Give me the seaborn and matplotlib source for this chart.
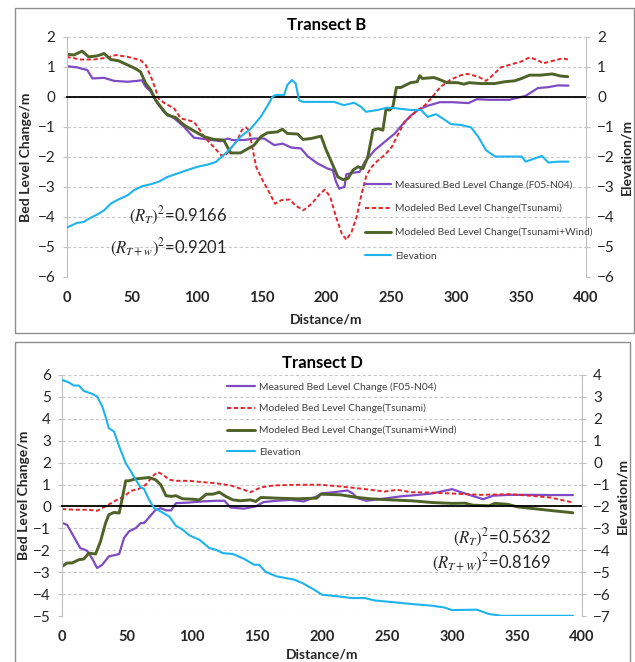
import numpy as np
import pandas as pd
import matplotlib
matplotlib.use("Agg")
import matplotlib.pyplot as plt
import seaborn as sns
from matplotlib.patches import Rectangle
from matplotlib.lines import Line2D

sns.set_style("white")
plt.rcParams['font.family'] = ['Lato', 'DejaVu Sans']
plt.rcParams['mathtext.fontset'] = 'stix'

# ---------------- Transect B ----------------
b_meas_d = [0, 8, 16, 20, 29, 36.5, 47, 54.5, 58, 61, 65, 70, 75, 83, 90.5, 98, 108.5, 119, 124, 128,
            136.7, 144.5, 152.2, 160, 166.5, 173, 180.5, 185.7, 193.3, 201, 205, 207.5, 210, 214, 215.5,
            220.6, 225.7, 229.6, 237.3, 245, 252.8, 260.5, 265.6, 271, 278, 287.5, 297, 309.5, 316, 325,
            341, 353.5, 363, 371, 378.5, 386.5]
b_meas_v = [1.02, 0.98, 0.89, 0.61, 0.63, 0.53, 0.5, 0.53, 0.55, 0.33, 0.17, -0.22, -0.5, -0.72, -1.0,
            -1.36, -1.42, -1.48, -1.39, -1.44, -1.44, -1.39, -1.39, -1.61, -1.56, -1.69, -1.72, -1.98,
            -2.22, -2.39, -2.44, -2.83, -3.06, -3.0, -2.58, -2.53, -2.5, -2.17, -1.78, -1.5, -1.22, -0.83,
            -0.61, -0.43, -0.3, -0.18, -0.18, -0.21, -0.08, -0.1, -0.1, 0.03, 0.29, 0.32, 0.38, 0.37]

b_tsu_d = [0, 11, 21, 31, 38, 47, 57, 61, 66, 71, 75, 83, 88, 98, 101, 106, 112, 119, 122, 126.4,
           131.6, 135, 138, 140.5, 142, 146, 151, 156.6, 160.5, 165.6, 172, 176, 182.4, 188.8, 195.3,
           199, 203, 208, 212, 215.5, 219.5, 223.4, 227.3, 231, 235, 240, 245, 250.5, 255.6, 260.5,
           268, 276, 280.6, 288, 296, 304, 309, 317, 323, 327, 334.5, 345, 350, 356.5, 363, 366.8,
           372, 378.4, 382, 386]
b_tsu_v = [1.33, 1.24, 1.24, 1.3, 1.39, 1.33, 1.22, 1.06, 0.56, -0.06, -0.2, -0.39, -0.72, -0.83, -1.0,
           -1.33, -1.61, -1.94, -1.97, -1.72, -1.44, -1.11, -1.02, -1.11, -1.44, -2.33, -2.78, -3.22,
           -3.56, -3.44, -3.42, -3.61, -3.78, -3.56, -3.22, -3.09, -3.33, -4.06, -4.56, -4.76, -4.5,
           -4.0, -3.22, -2.61, -2.33, -2.11, -1.94, -1.67, -1.22, -0.83, -0.53, -0.28, -0.06, 0.33,
           0.58, 0.72, 0.76, 0.67, 0.53, 0.67, 0.98, 1.11, 1.17, 1.31, 1.22, 1.11, 1.17, 1.24, 1.28, 1.24]

b_wind_d = [0, 5.7, 12, 17, 23.6, 29, 34, 40, 47, 53, 57, 61, 65, 68.6, 72.5, 77.6, 84, 90.5, 97, 106,
            113.6, 121, 126.4, 134, 140, 144.5, 149.6, 154.7, 162.4, 166.3, 170, 178, 182, 188.4, 196,
            200, 204, 209, 213, 216.7, 220.6, 224.4, 228.3, 232, 236, 240, 243.6, 246, 248.8, 251.3,
            254, 257.5, 265, 270, 272, 274, 283, 288, 293, 301, 306, 310, 319, 329.7, 337.3, 345,
            350.5, 356.5, 365, 374, 380.5, 386]
b_wind_v = [1.42, 1.39, 1.52, 1.33, 1.36, 1.44, 1.24, 1.2, 1.06, 0.94, 0.83, 0.44, 0.22, -0.11, -0.33,
            -0.61, -0.69, -0.94, -1.11, -1.33, -1.42, -1.44, -1.87, -1.87, -1.72, -1.61, -1.33, -1.2,
            -1.17, -1.08, -1.22, -1.24, -1.42, -1.39, -1.31, -1.78, -2.17, -2.67, -2.76, -2.72, -2.44,
            -2.33, -2.39, -2.0, -1.11, -1.06, -1.11, -0.42, -0.44, -0.33, 0.31, 0.31, 0.47, 0.5, 0.7,
            0.61, 0.64, 0.56, 0.47, 0.47, 0.42, 0.47, 0.44, 0.44, 0.5, 0.53, 0.61, 0.72, 0.72, 0.76,
            0.69, 0.67]

b_elev_d = [0, 8, 13, 18.5, 23.6, 29, 34, 39, 47, 52, 58, 65, 71, 77.6, 85, 93, 101, 108.5, 115, 121,
            126.4, 134, 142, 149.5, 155, 158.6, 161, 167.5, 170, 173.5, 176.5, 179, 182, 193.3, 206,
            213.5, 221.5, 226.6, 230.6, 239.5, 247, 255, 265, 273, 278, 284.5, 291, 296, 304, 311.5,
            317, 323, 330, 350.5, 353.5, 366, 371, 378.5, 386.5]
b_elev_v = [-4.36, -4.2, -4.17, -4.03, -3.92, -3.78, -3.56, -3.44, -3.28, -3.11, -2.98, -2.91, -2.83,
            -2.67, -2.56, -2.44, -2.33, -2.26, -2.17, -1.94, -1.72, -1.33, -1.06, -0.67, -0.28, 0.0,
            0.06, 0.06, 0.39, 0.56, 0.44, -0.11, -0.17, -0.17, -0.17, -0.28, -0.2, -0.33, -0.5, -0.44,
            -0.36, -0.39, -0.44, -0.44, -0.67, -0.58, -0.76, -0.91, -0.94, -1.02, -1.33, -1.78, -1.99,
            -1.99, -2.16, -1.97, -2.19, -2.16, -2.16]

# ---------------- Transect D ----------------
d_meas_d = [0.5, 3.9, 9, 14, 19.3, 23, 27, 31, 36, 40, 44, 47.7, 51.5, 56.7, 60.5, 63, 67, 72, 76, 80,
            84, 87.6, 98, 108, 118.5, 125, 129.7, 140, 149, 155, 165, 175.5, 186, 196, 200, 209, 219.6,
            223.5, 227.3, 234, 240, 250.5, 260.5, 268.5, 284.5, 300, 310, 324, 331.5, 344, 360, 375.5, 393]
d_meas_v = [-0.76, -0.84, -1.37, -1.9, -2.02, -2.36, -2.81, -2.66, -2.28, -2.23, -2.17, -1.44, -1.14,
            -0.99, -0.76, -0.76, -0.5, -0.15, -0.08, -0.18, -0.18, 0.15, 0.18, 0.23, 0.26, 0.26, -0.05,
            -0.1, 0.0, 0.2, 0.26, 0.3, 0.23, 0.46, 0.6, 0.65, 0.73, 0.6, 0.38, 0.26, 0.3, 0.38, 0.46,
            0.5, 0.59, 0.79, 0.59, 0.33, 0.49, 0.53, 0.53, 0.52, 0.52]

d_tsu_d = [0, 10, 20.6, 27, 33.5, 40, 47.7, 53, 59, 64.4, 69.6, 73.5, 77.3, 82.5, 87.6, 98, 108, 118.5,
           129.7, 140, 145, 153, 163, 181, 199, 214.5, 232, 248, 258, 268.5, 281.5, 300, 322, 344, 360,
           375.5, 393]
d_tsu_v = [-0.12, -0.15, -0.15, -0.2, 0.0, 0.23, 0.46, 0.71, 0.8, 0.99, 1.37, 1.57, 1.47, 1.22, 1.17,
           1.17, 1.11, 1.06, 0.96, 0.76, 0.65, 0.87, 0.96, 0.99, 0.99, 0.91, 0.8, 0.68, 0.76, 0.65,
           0.64, 0.59, 0.53, 0.56, 0.49, 0.41, 0.18]

d_wind_d = [0, 3.9, 7.7, 13, 16.8, 20.6, 25.8, 29.6, 33.5, 36, 40, 44, 46.4, 49, 51.5, 56.7, 62, 67, 72,
            76, 80, 84, 87.6, 92.8, 100.5, 105.7, 111, 116, 121, 126, 131.4, 137.4, 145, 149, 153, 165,
            181, 196, 199, 214.5, 227.3, 237.5, 253, 268.5, 275, 284.5, 300, 310, 316, 328.5, 333,
            342.5, 350.5, 366, 378.5, 393]
d_wind_v = [-2.74, -2.58, -2.58, -2.43, -2.4, -2.13, -2.17, -1.6, -0.76, -0.38, -0.27, -0.3, 0.38, 1.17,
            1.17, 1.26, 1.29, 1.32, 1.22, 0.99, 0.49, 0.46, 0.49, 0.35, 0.33, 0.3, 0.56, 0.56, 0.65,
            0.46, 0.3, 0.26, 0.3, 0.23, 0.41, 0.38, 0.35, 0.38, 0.56, 0.53, 0.41, 0.35, 0.3, 0.26, 0.23,
            0.18, 0.14, 0.15, 0.06, 0.03, 0.14, 0.1, -0.02, -0.12, -0.2, -0.29]

d_elev_d = [0, 5, 9, 13, 16.8, 22, 27, 31, 33.5, 36, 40, 44, 49, 53, 56.7, 60.5, 63, 67, 71, 76, 82.5,
            87.6, 92.8, 98, 105.7, 113.4, 118.5, 123.7, 131.4, 140, 147.7, 151.6, 156.7, 165, 178.6,
            185, 194, 200, 212, 222.5, 232.7, 240.5, 253, 268.5, 284.5, 294, 300, 319, 328.5, 338, 393]
d_elev_v = [3.78, 3.67, 3.52, 3.52, 3.27, 3.17, 3.02, 2.56, 2.1, 1.57, 1.42, 0.74, -0.02, -0.4, -0.78,
            -1.13, -1.19, -1.7, -2.08, -2.23, -2.46, -2.88, -3.06, -3.32, -3.52, -3.9, -3.98, -4.13,
            -4.17, -4.39, -4.66, -4.66, -4.99, -5.19, -5.34, -5.5, -5.8, -6.03, -6.1, -6.18, -6.18,
            -6.29, -6.36, -6.45, -6.53, -6.61, -6.73, -6.71, -6.91, -6.99, -6.99]

x_ticks = [0, 50, 100, 150, 200, 250, 300, 350, 400]
series_labels = ["Measured Bed Level Change (F05-N04)",
                 "Modeled Bed Level Change(Tsunami)",
                 "Modeled Bed Level Change(Tsunami+Wind)",
                 "Elevation"]

PURPLE = '#7F4BC4'
RED = '#E3262B'
GREEN = '#4F6228'
CYAN = '#1DB4EE'
TXT = '#262626'
W, H = 635, 662

fig = plt.figure(figsize=(W / 100, H / 100), dpi=100)
fig.patch.set_facecolor('white')

# panel frames
fig.add_artist(Rectangle((15 / W, 1 - 333 / H), (634 - 15) / W, (333 - 8) / H,
                         transform=fig.transFigure, fill=False, edgecolor='#8f8f8f', lw=1.0))
fig.add_artist(Rectangle((15 / W, -0.02), (630 - 15) / W, 1 - 342 / H + 0.02,
                         transform=fig.transFigure, fill=False, edgecolor='#8f8f8f', lw=1.0))


def make_panel(rect, ylo, yhi, rlo, rhi, title, data, ylab_x, rlab_x, xlab_pad):
    ax = fig.add_axes(rect)
    ax.set_facecolor('none')
    (md, mv), (td, tv), (wd, wv), (ed, ev) = data
    sns.lineplot(x=md, y=mv, ax=ax, color=PURPLE, lw=1.6, sort=False, legend=False)
    sns.lineplot(x=td, y=tv, ax=ax, color=RED, lw=1.4, sort=False, legend=False,
                 linestyle=(0, (2.2, 1.3)))
    sns.lineplot(x=wd, y=wv, ax=ax, color=GREEN, lw=2.1, sort=False, legend=False)
    ax.set_xlim(0, 400)
    ax.set_ylim(ylo, yhi)
    ax.set_yticks(range(ylo, yhi + 1))
    ax.yaxis.grid(True, ls=(0, (3, 2)), color='#c9c9c9', lw=0.8)
    ax.xaxis.grid(False)
    ax.set_axisbelow(True)
    for s in ['top', 'right']:
        ax.spines[s].set_visible(False)
    ax.spines['left'].set_color('#bfbfbf')
    ax.spines['bottom'].set_position(('data', 0))
    ax.spines['bottom'].set_color('black')
    ax.spines['bottom'].set_linewidth(1.3)
    ax.set_xticks(x_ticks)
    ax.tick_params(axis='x', direction='out', length=3.5, width=1.2, color='black',
                   labelbottom=False)
    ax.tick_params(axis='y', direction='out', length=3, color='#bfbfbf', labelsize=11,
                   pad=5, labelcolor=TXT)
    ax.set_xlabel('')
    ax.set_ylabel('Bed Level Change/m', fontweight='bold', fontsize=10, color=TXT)
    ax.yaxis.set_label_coords(ylab_x, 0.5)
    ax.set_title(title, fontweight='bold', fontsize=12, pad=5, color='black')

    sec = ax.secondary_xaxis('bottom')
    sec.set_xticks(x_ticks)
    sec.set_xticklabels([str(t) for t in x_ticks], fontweight='bold', fontsize=10.5, color=TXT)
    sec.tick_params(length=0, pad=10)
    sec.spines['bottom'].set_visible(False)
    sec.set_xlabel('Distance/m', fontweight='bold', fontsize=10, color=TXT, labelpad=xlab_pad)

    ax2 = ax.twinx()
    sns.lineplot(x=ed, y=ev, ax=ax2, color=CYAN, lw=1.5, sort=False, legend=False)
    ax2.set_ylim(rlo, rhi)
    ax2.set_yticks(range(rlo, rhi + 1))
    ax2.grid(False)
    for s in ['top', 'left', 'bottom']:
        ax2.spines[s].set_visible(False)
    ax2.spines['right'].set_color('#bfbfbf')
    ax2.tick_params(axis='y', direction='out', length=3, color='#bfbfbf', labelsize=11,
                    pad=5, labelcolor=TXT)
    ax2.set_ylabel('Elevation/m', fontweight='bold', fontsize=10, color=TXT)
    ax2.yaxis.set_label_coords(rlab_x, 0.5)
    return ax, ax2


axB, axB2 = make_panel([66.5 / W, 1 - 277 / H, 519.5 / W, 240.3 / H], -6, 2, -6, 2, 'Transect B',
                       [(b_meas_d, b_meas_v), (b_tsu_d, b_tsu_v), (b_wind_d, b_wind_v),
                        (b_elev_d, b_elev_v)], -0.066, 1.066, 6)
axD, axD2 = make_panel([62 / W, 1 - 616 / H, 520 / W, 241 / H], -5, 6, -7, 4, 'Transect D',
                       [(d_meas_d, d_meas_v), (d_tsu_d, d_tsu_v), (d_wind_d, d_wind_v),
                        (d_elev_d, d_elev_v)], -0.062, 1.066, 3)


def handles():
    return [Line2D([], [], color=PURPLE, lw=1.6),
            Line2D([], [], color=RED, lw=1.4, ls=(0, (2.2, 1.3))),
            Line2D([], [], color=GREEN, lw=2.1),
            Line2D([], [], color=CYAN, lw=1.5)]


fig.legend(handles(), series_labels, loc='upper left', bbox_to_anchor=(365 / W, 1 - 180 / H),
           frameon=False, fontsize=7.4, handlelength=2.5, handletextpad=0.4, labelspacing=1.4,
           borderpad=0, borderaxespad=0, labelcolor='#404040')
fig.legend(handles(), series_labels, loc='upper left', bbox_to_anchor=(227 / W, 1 - 382 / H),
           frameon=False, fontsize=7.4, handlelength=2.7, handletextpad=0.4, labelspacing=1.2,
           borderpad=0, borderaxespad=0, labelcolor='#404040')

fig.text(227 / W, 1 - 216 / H, r'$(R_T)^2$=0.9166', ha='right', va='center', fontsize=12, color=TXT)
fig.text(227 / W, 1 - 248 / H, r'$(R_{T+w})^2$=0.9201', ha='right', va='center', fontsize=12, color=TXT)
fig.text(551 / W, 1 - 538 / H, r'$(R_T)^2$=0.5632', ha='right', va='center', fontsize=12, color=TXT)
fig.text(551 / W, 1 - 563 / H, r'$(R_{T+W})^2$=0.8169', ha='right', va='center', fontsize=12, color=TXT)

fig.savefig('out.png', dpi=100, facecolor='white')
